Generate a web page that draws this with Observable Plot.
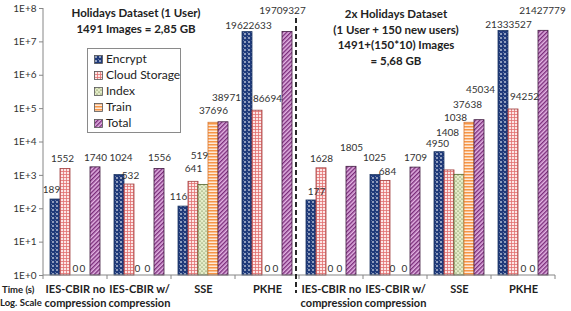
<!DOCTYPE html>
<html>
<head>
<meta charset="utf-8">
<script src="https://cdn.jsdelivr.net/npm/d3@7"></script>
<script src="https://cdn.jsdelivr.net/npm/@observablehq/plot@0.6"></script>
<style>
  body { margin: 0; background: white; }
  #wrap { position: relative; width: 571px; height: 311px; font-family: Lato, "Open Sans", sans-serif; color: #222; overflow: hidden; }
  .title { position: absolute; font-weight: bold; font-size: 11.5px; text-align: center; line-height: 15.5px; white-space: nowrap; transform: translateX(-50%); }
  .side { position: absolute; font-weight: bold; font-size: 9.5px; white-space: nowrap; color: #222; }
  #legend { position: absolute; left: 87px; top: 48px; width: 94px; height: 85px; border: 1px solid #8a8a8a; background: white; box-sizing: border-box; padding: 2px 0 0 6px; }
  #legend .row { height: 16px; line-height: 16px; font-size: 12px; color: #222; white-space: nowrap; }
  #legend svg { vertical-align: -1px; margin-right: 3px; }
</style>
</head>
<body>
<svg width="0" height="0" style="position:absolute">
  <defs>
    <pattern id="pat-enc" width="4" height="4" patternUnits="userSpaceOnUse">
      <rect width="4" height="4" fill="#1f3a7a"/>
      <polygon points="2,1 3,2 2,3 1,2" fill="#ffffff"/>
      <rect x="0" y="0" width="0.6" height="0.6" fill="#dfe6f5"/>
    </pattern>
    <pattern id="pat-cloud" width="3" height="3" patternUnits="userSpaceOnUse">
      <rect width="3" height="3" fill="#fce6e6"/>
      <rect width="3" height="0.8" fill="#e27070"/>
      <rect width="0.8" height="3" fill="#e27070"/>
    </pattern>
    <pattern id="pat-index" width="4" height="4" patternUnits="userSpaceOnUse">
      <rect width="4" height="4" fill="#e4ecc8"/>
      <circle cx="1" cy="1" r="0.6" fill="#4f6228"/>
      <circle cx="3" cy="3" r="0.6" fill="#4f6228"/>
    </pattern>
    <pattern id="pat-train" width="3" height="3" patternUnits="userSpaceOnUse">
      <rect width="3" height="3" fill="#fde9d9"/>
      <rect width="3" height="1.5" fill="#f79646"/>
    </pattern>
    <pattern id="pat-total" width="3" height="3" patternUnits="userSpaceOnUse" patternTransform="rotate(45)">
      <rect width="3" height="3" fill="#e3b3e3"/>
      <rect width="1.4" height="3" fill="#7b2d7b"/>
    </pattern>
  </defs>
</svg>
<div id="wrap">
  <div id="chart"></div>
  <div class="title" style="left:136px; top:5px;">Holidays Dataset (1 User)<br>1491 Images = 2,85 GB</div>
  <div class="title" style="left:396px; top:6px;">2x Holidays Dataset<br>(1 User + 150 new users)<br>1491+(150*10) Images<br>= 5,68 GB</div>
  <div class="side" style="left:2px; top:284px;">Time (s)</div>
  <div class="side" style="left:0px; top:297px;">Log. Scale</div>
  <div id="legend"></div>
</div>
<script>
// ---- data ----
const categories = ["IES-CBIR no compression", "IES-CBIR w/ compression", "SSE", "PKHE"];
const categoryTickLabels = ["IES-CBIR no\ncompression", "IES-CBIR w/\ncompression", "SSE", "PKHE"];
const series = ["Encrypt", "Cloud Storage", "Index", "Train", "Total"];
const panels = ["Holidays Dataset (1 User)", "2x Holidays Dataset"];

// Dataset 1 (1 user)
const encrypt1 = [189, 1024, 116, 19622633];
const cloud1   = [1552, 532, 641, 86694];
const index1   = [0, 0, 519, 0];
const train1   = [0, 0, 37696, 0];
const total1   = [1740, 1556, 38971, 19709327];
// Dataset 2 (1 user + 150 new users)
const encrypt2 = [177, 1025, 4950, 21333527];
const cloud2   = [1628, 684, 1408, 94252];
const index2   = [0, 0, 1038, 0];
const train2   = [0, 0, 37638, 0];
const total2   = [1805, 1709, 45034, 21427779];

const yTicks = [1, 10, 100, 1000, 10000, 100000, 1000000, 10000000, 100000000];
const yTickLabels = ["1E+0", "1E+1", "1E+2", "1E+3", "1E+4", "1E+5", "1E+6", "1E+7", "1E+8"];

// ---- styling ----
const patterns = ["url(#pat-enc)", "url(#pat-cloud)", "url(#pat-index)", "url(#pat-train)", "url(#pat-total)"];
const strokes = ["#1f3864", "#a04040", "#4f6228", "#d9752a", "#3f1a3f"];
// label nudges [dx, dy] in px, per panel/category/series
const labelShift = [
  [ [[-4,0],[-3,0],[0,3],[-3,3],[0,0]],
    [[1.5,-7],[1,1],[-2,3],[-2,3],[0,-1]],
    [[-5,0],[0,-3],[-4,-19],[0,-2],[3,-14]],
    [[1,4],[10,-2],[0,3],[-2,3],[-5,-11]] ],
  [ [[5,1],[0,0],[-1,3],[-2,3],[0,-9]],
    [[-1,-7],[2,1],[-3,3],[-1,3],[0,0]],
    [[-2,2],[-2,-28],[-4,-47],[-2,-8],[1,-20]],
    [[5,4],[11,-3],[0,3],[-1,3],[-1,-10]] ]
];

const valueSets = [[encrypt1, cloud1, index1, train1, total1], [encrypt2, cloud2, index2, train2, total2]];
const groups = [];
const rows = [];
panels.forEach((p, pi) => {
  categories.forEach((c, ci) => {
    const g = (pi === 0 ? "L" : "R") + ci;
    groups.push(g);
    series.forEach((s, si) => {
      rows.push({panel: p, pi, ci, si, group: g, category: c, series: s, value: valueSets[pi][si][ci]});
    });
  });
});

const barMarks = series.map((s, si) =>
  Plot.barY(rows.filter(d => d.si === si && d.value > 0), {
    fx: "group", x: "series", y1: 1, y2: "value",
    fill: patterns[si], stroke: strokes[si], strokeWidth: 0.8
  })
);

const labelMarks = rows.map(d => {
  const [sdx, sdy] = labelShift[d.pi][d.ci][d.si];
  return Plot.text([d], {
    fx: "group", x: "series", y: r => r.value > 0 ? r.value : 1,
    text: r => String(r.value), dx: sdx, dy: -10 + sdy,
    lineAnchor: "middle", fontSize: 10, fill: "#333"
  });
});

const chart = Plot.plot({
  width: 571, height: 311,
  marginLeft: 40, marginRight: 13, marginTop: 8, marginBottom: 36,
  style: {fontFamily: "Lato, 'Open Sans', sans-serif", fontSize: "10px", background: "white", overflow: "visible"},
  fx: {domain: groups, padding: 0, label: null},
  x: {domain: series, paddingInner: 0.03, paddingOuter: 0.7, axis: null},
  y: {type: "log", domain: [1, 1e8], label: null},
  marks: [
    ...barMarks,
    ...labelMarks,
    Plot.axisY({ticks: yTicks, tickFormat: v => yTickLabels[yTicks.indexOf(v)], tickSize: 4, tickPadding: 3,
      color: "#333", stroke: "#868686", fontSize: 10, label: null}),
    Plot.axisFx({anchor: "bottom", tickSize: 0, tickPadding: 8, lineHeight: 1.27, fontSize: 11, fontWeight: "bold",
      color: "#222", label: null, tickFormat: g => categoryTickLabels[+g[1]]})
  ]
});
document.getElementById("chart").appendChild(chart);

// axis lines, boundary ticks and panel separator from the plot's own scales
const fxS = chart.scale("fx");
const yS = chart.scale("y");
const y0 = yS.apply(1), yTop = yS.apply(1e8);
const xLeft = fxS.apply(groups[0]);
const xRight = fxS.apply(groups[groups.length - 1]) + fxS.bandwidth;
const deco = d3.select(chart).append("g");
deco.append("line").attr("x1", xLeft).attr("x2", xLeft).attr("y1", yTop).attr("y2", y0).attr("stroke", "#868686");
deco.append("line").attr("x1", xLeft).attr("x2", xRight).attr("y1", y0).attr("y2", y0).attr("stroke", "#868686");
const bounds = groups.map(g => fxS.apply(g)).concat([xRight]);
bounds.forEach(bx => deco.append("line").attr("x1", bx).attr("x2", bx).attr("y1", y0).attr("y2", y0 + 4).attr("stroke", "#868686"));
const sepX = fxS.apply("R0") - 3;
deco.append("line").attr("x1", sepX).attr("x2", sepX).attr("y1", 18).attr("y2", 293)
  .attr("stroke", "#111").attr("stroke-width", 1.8).attr("stroke-dasharray", "5,3");

// legend
const legend = d3.select("#legend");
series.forEach((s, si) => {
  const row = legend.append("div").attr("class", "row");
  const sw = row.append("svg").attr("width", 9).attr("height", 9);
  sw.append("rect").attr("x", 0.5).attr("y", 0.5).attr("width", 8).attr("height", 8)
    .attr("fill", patterns[si]).attr("stroke", "#555").attr("stroke-width", 0.8);
  row.append("span").text(s);
});
</script>
</body>
</html>
